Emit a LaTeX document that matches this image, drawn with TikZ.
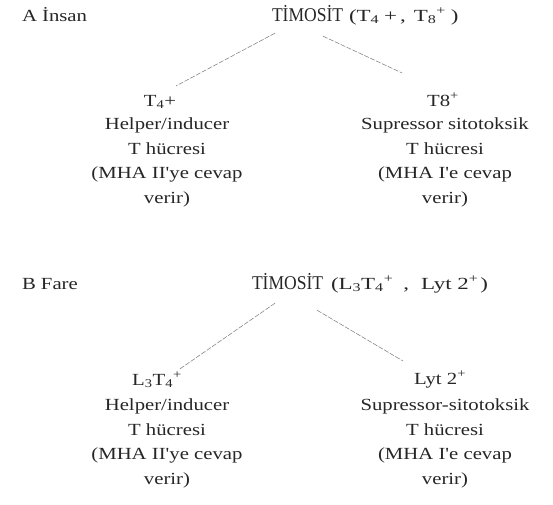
\documentclass[tikz,border=0pt]{standalone}
\usepackage{fontspec}
\setmainfont{Liberation Serif}
\newfontfamily\bodyfont{Liberation Serif}[FakeStretch=1.22]
\newfontfamily\parfont{Liberation Serif}[FakeStretch=1.35]
\newfontfamily\titlefont{Liberation Serif}[FakeStretch=0.9]
\begin{document}
\begin{tikzpicture}[x=1pt,y=-1pt,
  every node/.style={inner sep=0pt, outer sep=0pt, text=black!85},
  body/.style={font=\bodyfont\fontsize{17}{24.5}\selectfont, align=center, anchor=north},
  head/.style={font=\bodyfont\fontsize{17}{20}\selectfont, anchor=base},
  ttl/.style={font=\titlefont\fontsize{19.5}{22}\selectfont, anchor=base west},
  par/.style={font=\parfont\fontsize{17}{20}\selectfont, anchor=base west},
  sec/.style={font=\bodyfont\fontsize{17}{20}\selectfont, anchor=base west},
  link/.style={draw=black!50, line width=0.55pt, dash pattern=on 5pt off 1.5pt}]
\useasboundingbox (0,0) rectangle (553,504);
% ---- A
\node[sec] (secA) at (22,21) {A İnsan};
\node[ttl] (tA) at (272,21) {TİMOSİT};
\node[par] (pA) at (349,21) {(T\textsubscript{4}\hspace{5pt}+\hspace{3pt},\hspace{8pt}T\textsubscript{8}\textsuperscript{+}\hspace{5pt})};
\node[head] (hA1) at (160,106) {T\textsubscript{4}+};
\node[body] (bA1) at (167,118) {Helper/inducer\\T hücresi\\(MHA II'ye cevap\\verir)};
\node[head] (hA2) at (443,106) {T8\textsuperscript{+}};
\node[body] (bA2) at (445,118) {Supressor sitotoksik\\T hücresi\\(MHA I'e cevap\\verir)};
\draw[link] ([shift={(3,12)}]tA.south west) -- ([shift={(0,-9)}]hA1.north east);
\draw[link] ([shift={(51,15)}]tA.south west) -- ([shift={(-25,-20)}]hA2.north west);
% ---- B
\node[sec] (secB) at (22,289) {B Fare};
\node[ttl] (tB) at (252,289) {TİMOSİT};
\node[par] (pB) at (331,289) {(L\textsubscript{3}T\textsubscript{4}\textsuperscript{+}\hspace{10pt},\hspace{12pt}Lyt 2\textsuperscript{+}\hspace{2pt})};
\node[head] (hB1) at (157,385) {L\textsubscript{3}T\textsubscript{4}\textsuperscript{+}};
\node[body] (bB1) at (167,399) {Helper/inducer\\T hücresi\\(MHA II'ye cevap\\verir)};
\node[head] (hB2) at (440,384) {Lyt 2\textsuperscript{+}};
\node[body] (bB2) at (445,399) {Supressor-sitotoksik\\T hücresi\\(MHA I'e cevap\\verir)};
\draw[link] ([shift={(23,14)}]tB.south west) -- ([shift={(-2,-3)}]hB1.north east);
\draw[link] ([shift={(65,21)}]tB.south west) -- ([shift={(-11,-10)}]hB2.north west);
\end{tikzpicture}
\end{document}
